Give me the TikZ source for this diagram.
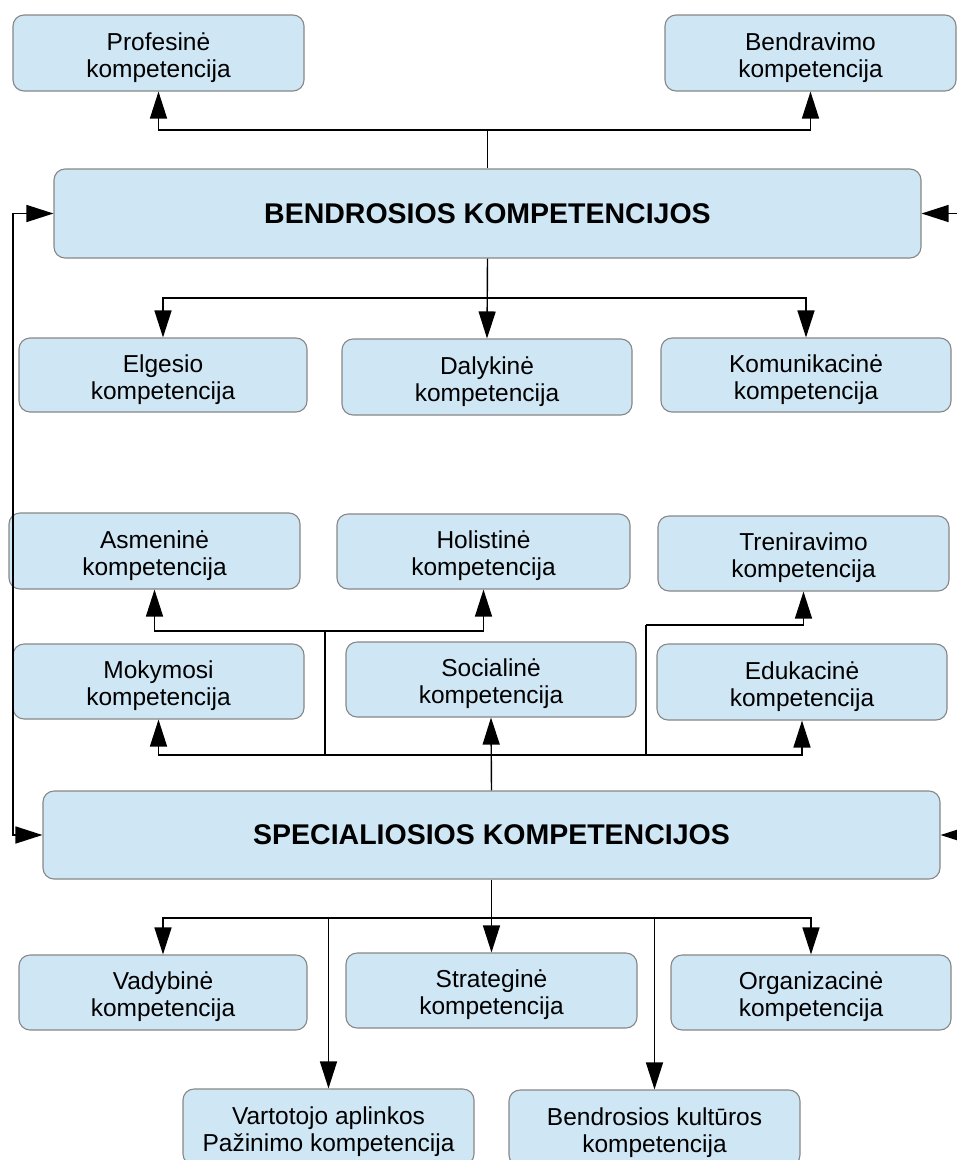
\documentclass[tikz,border=0pt]{standalone}
\usepackage{fontspec}
\setmainfont{Liberation Sans}
\usetikzlibrary{arrows.meta}
\definecolor{boxfill}{RGB}{207,230,244}
\definecolor{boxline}{RGB}{135,135,135}
% taller first line, so two-line labels sit a little lower in their boxes
\newcommand\firstline{\rule{0pt}{27pt}}
\tikzset{
  box/.style={draw=boxline, line width=1.1pt, fill=boxfill, rounded corners=11pt,
    align=center, inner sep=0pt, minimum width=291pt, minimum height=76pt,
    font=\fontsize{24.5}{27}\selectfont},
  bigbox/.style={box, minimum height=89pt, font=\fontsize{28.5}{34}\selectfont\bfseries},
  link/.style={draw=black, line width=1.4pt},
  arr/.style={link, -{Triangle[length=27pt,width=17pt]}},
  twoarr/.style={link, {Triangle[length=27pt,width=17pt]}-{Triangle[length=27pt,width=17pt]}}
}
\begin{document}
\begin{tikzpicture}[x=1pt,y=-1pt]
\useasboundingbox (0,0) rectangle (957,1160);

% general competences and their branches
\node[box] (prof)  at (158.5,53)  {\firstline Profesinė\\kompetencija};
\node[box] (bendr) at (810.5,53)  {\firstline Bendravimo\\kompetencija};
\node[bigbox, minimum width=867pt] (bend) at (487.5,213.5) {BENDROSIOS KOMPETENCIJOS};
\node[box, minimum width=288pt, minimum height=74pt] (elg) at (163,375) {\firstline Elgesio\\kompetencija};
\node[box, minimum width=290pt] (dal) at (487,377) {\firstline Dalykinė\\kompetencija};
\node[box, minimum width=290pt, minimum height=74pt] (kom) at (806,375) {\firstline Komunikacinė\\kompetencija};

% special competences and their branches
\node[box] (asm)  at (154.5,551)   {\firstline Asmeninė\\kompetencija};
\node[box, minimum width=293pt, minimum height=75pt] (hol) at (483.5,551.5) {\firstline Holistinė\\kompetencija};
\node[box, minimum height=75pt] (tren) at (803.5,553.5) {\firstline Treniravimo\\kompetencija};
\node[box, minimum height=75pt] (mok)  at (158.5,681.5) {\firstline Mokymosi\\kompetencija};
\node[box, minimum width=290pt, minimum height=75pt] (soc) at (491,679.5) {\firstline Socialinė\\kompetencija};
\node[box, minimum width=290pt] (edu)  at (802,682)     {\firstline Edukacinė\\kompetencija};
\node[bigbox, minimum width=897pt, minimum height=88pt] (spec) at (491.5,835) {SPECIALIOSIOS KOMPETENCIJOS};

\node[box, minimum width=288pt, minimum height=75pt] (vad) at (163,992.5) {\firstline Vadybinė\\kompetencija};
\node[box, minimum height=75pt] (str) at (491.5,990.5) {\firstline Strateginė\\kompetencija};
\node[box, minimum width=280pt, minimum height=75pt] (org) at (811,992.5) {\firstline Organizacinė\\kompetencija};
\node[box] (var) at (328.5,1127) {\firstline Vartotojo aplinkos\\Pažinimo kompetencija};
\node[box] (bk)  at (654.5,1128) {\firstline Bendrosios kultūros\\kompetencija};

% junction points
\coordinate (topbus) at (487.5,130);
\coordinate (midbus) at (487.5,298);
\coordinate (lside)  at (13,0);
\coordinate (rside)  at (960,0);
\coordinate (upbus)  at (491.5,755);
\coordinate (bl)     at (325,755);
\coordinate (blt)    at (325,631);
\coordinate (br)     at (646,755);
\coordinate (brt)    at (646,625);
\coordinate (lowbus) at (491.5,918);
\coordinate (dl)     at (328.5,918);
\coordinate (dr)     at (654.5,918);

% upper links
\path[link] (bend.north) -- (topbus);
\draw[arr] (topbus) -| (prof.south);
\draw[arr] (topbus) -| (bendr.south);
\draw[arr] (bend.south) -- (dal.north);
\draw[arr] (midbus) -| (elg.north);
\draw[arr] (midbus) -| (kom.north);

% feedback lines on both sides
\draw[twoarr] (bend.west) -- (bend.west -| lside) -- (spec.west -| lside) -- (spec.west);
\draw[arr] (bend.east -| rside) -- (bend.east);
\draw[arr] (spec.east -| rside) -- (spec.east);

% links above the special competences
\draw[arr] (spec.north) -- (soc.south);
\draw[arr] (upbus) -| (mok.south);
\draw[arr] (upbus) -| (edu.south);
\path[link] (bl) -- (blt);
\draw[arr] (blt) -| (asm.south);
\draw[arr] (blt) -| (hol.south);
\path[link] (br) -- (brt);
\draw[arr] (brt) -| (tren.south);

% links below the special competences
\draw[arr] (spec.south) -- (str.north);
\draw[arr] (lowbus) -| (vad.north);
\draw[arr] (lowbus) -| (org.north);
\draw[arr] (dl) -- (var.north);
\draw[arr] (dr) -- (bk.north);
\end{tikzpicture}
\end{document}
